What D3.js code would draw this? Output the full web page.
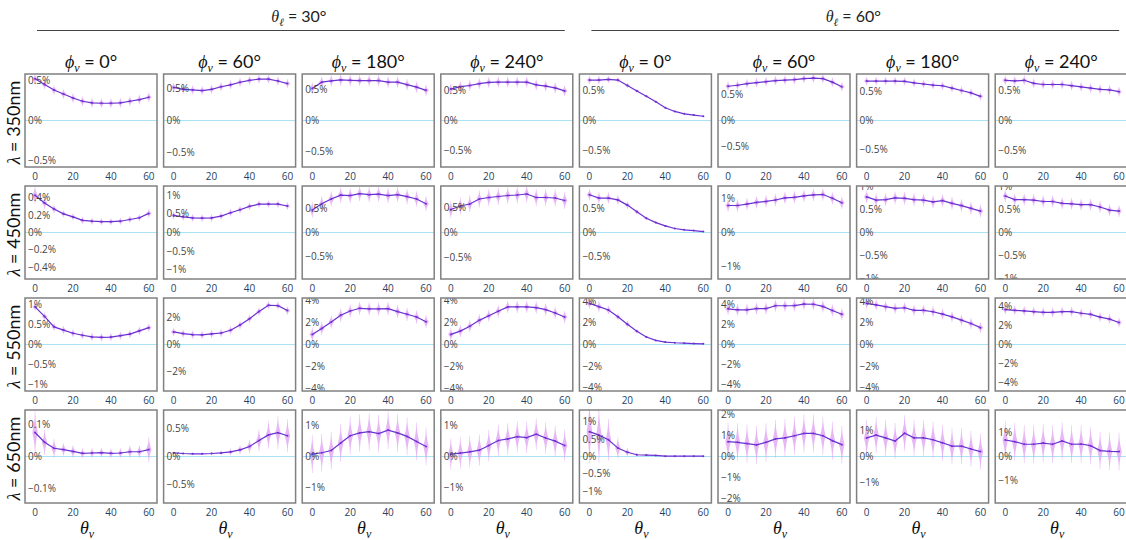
<!DOCTYPE html>
<html>
<head>
<meta charset="utf-8">
<script src="https://cdn.jsdelivr.net/npm/d3@7"></script>
<style>
  body { margin: 0; background: #fff; }
  svg { display: block; }
</style>
</head>
<body>
<div id="chart"></div>
<script>
// view zenith angles (x axis of every panel)
const thetaV = [0, 5, 10, 15, 20, 25, 30, 35, 40, 45, 50, 55, 60];
const thetaL = [30, 60];          // column groups
const phiV = [0, 60, 180, 240];   // columns inside a group
const wavelengths = [350, 450, 550, 650]; // rows
const xTicks = [0, 20, 40, 60];

// DoLP difference in %, one series per column (thetaL 30: phi 0,60,180,240 then thetaL 60)
const dolp350 = [
  [0.52, 0.45, 0.38, 0.33, 0.28, 0.24, 0.22, 0.215, 0.215, 0.22, 0.24, 0.26, 0.29],
  [0.52, 0.49, 0.48, 0.47, 0.49, 0.53, 0.56, 0.60, 0.63, 0.65, 0.65, 0.62, 0.58],
  [0.51, 0.61, 0.63, 0.645, 0.64, 0.635, 0.635, 0.635, 0.61, 0.61, 0.57, 0.53, 0.48],
  [0.52, 0.56, 0.58, 0.61, 0.63, 0.635, 0.635, 0.635, 0.635, 0.59, 0.57, 0.54, 0.49],
  [0.67, 0.67, 0.68, 0.67, 0.58, 0.49, 0.40, 0.31, 0.21, 0.15, 0.11, 0.09, 0.07],
  [0.67, 0.69, 0.72, 0.74, 0.76, 0.78, 0.79, 0.80, 0.82, 0.83, 0.82, 0.75, 0.66],
  [0.67, 0.67, 0.67, 0.67, 0.665, 0.64, 0.62, 0.60, 0.59, 0.55, 0.51, 0.47, 0.41],
  [0.67, 0.66, 0.67, 0.62, 0.60, 0.60, 0.60, 0.58, 0.56, 0.54, 0.52, 0.51, 0.48]
];
const dolp450 = [
  [0.43, 0.34, 0.27, 0.215, 0.18, 0.14, 0.13, 0.125, 0.125, 0.13, 0.15, 0.17, 0.22],
  [0.46, 0.42, 0.39, 0.385, 0.39, 0.44, 0.53, 0.61, 0.70, 0.76, 0.76, 0.76, 0.71],
  [0.47, 0.60, 0.70, 0.78, 0.77, 0.81, 0.79, 0.80, 0.77, 0.79, 0.75, 0.70, 0.60],
  [0.46, 0.53, 0.57, 0.67, 0.70, 0.72, 0.74, 0.75, 0.77, 0.70, 0.70, 0.69, 0.64],
  [0.80, 0.73, 0.73, 0.69, 0.58, 0.44, 0.30, 0.21, 0.14, 0.085, 0.056, 0.04, 0.02],
  [0.79, 0.79, 0.83, 0.88, 0.91, 0.95, 1.01, 1.03, 1.07, 1.10, 1.11, 1.00, 0.87],
  [0.78, 0.71, 0.72, 0.76, 0.75, 0.72, 0.71, 0.67, 0.70, 0.64, 0.59, 0.53, 0.47],
  [0.80, 0.72, 0.72, 0.71, 0.68, 0.68, 0.64, 0.63, 0.61, 0.61, 0.56, 0.49, 0.47]
];
const dolp550 = [
  [0.94, 0.70, 0.44, 0.36, 0.28, 0.23, 0.19, 0.18, 0.185, 0.22, 0.26, 0.34, 0.42],
  [0.92, 0.80, 0.72, 0.70, 0.77, 0.84, 1.04, 1.42, 1.88, 2.41, 2.87, 2.84, 2.48],
  [0.91, 1.45, 2.03, 2.64, 3.03, 3.27, 3.21, 3.21, 3.24, 2.97, 2.73, 2.48, 2.06],
  [0.91, 1.21, 1.64, 2.18, 2.60, 3.00, 3.39, 3.39, 3.39, 3.33, 3.15, 2.85, 2.48],
  [3.80, 3.50, 3.19, 2.56, 1.88, 1.22, 0.69, 0.38, 0.22, 0.16, 0.12, 0.09, 0.06],
  [3.59, 3.49, 3.49, 3.62, 3.62, 3.90, 3.90, 3.92, 4.07, 4.05, 3.83, 3.42, 3.04],
  [3.81, 3.66, 3.50, 3.34, 3.40, 3.16, 3.16, 3.03, 2.81, 2.56, 2.25, 1.94, 1.56],
  [3.68, 3.60, 3.54, 3.46, 3.39, 3.39, 3.46, 3.46, 3.29, 3.18, 2.89, 2.68, 2.32]
];
const dolp650 = [
  [0.076, 0.045, 0.026, 0.022, 0.016, 0.010, 0.011, 0.012, 0.010, 0.011, 0.015, 0.015, 0.022],
  [0.065, 0.054, 0.048, 0.048, 0.054, 0.065, 0.083, 0.12, 0.18, 0.29, 0.39, 0.43, 0.375],
  [0.074, 0.12, 0.19, 0.43, 0.66, 0.75, 0.79, 0.73, 0.84, 0.75, 0.64, 0.48, 0.32],
  [0.074, 0.11, 0.15, 0.20, 0.35, 0.51, 0.56, 0.63, 0.60, 0.71, 0.59, 0.49, 0.35],
  [0.71, 0.61, 0.48, 0.24, 0.12, 0.05, 0.04, 0.03, 0.01, 0.01, 0.01, 0.01, 0.01],
  [0.70, 0.67, 0.61, 0.55, 0.67, 0.83, 0.88, 0.98, 1.09, 1.09, 0.98, 0.75, 0.56],
  [0.72, 0.83, 0.72, 0.60, 0.90, 0.72, 0.72, 0.65, 0.53, 0.40, 0.40, 0.29, 0.19],
  [0.70, 0.63, 0.52, 0.52, 0.57, 0.52, 0.66, 0.52, 0.53, 0.46, 0.25, 0.22, 0.21]
];

// half height of the spread at each point (%), a number for the whole panel or one per point
const spread350 = [0.06, 0.07, 0.09, 0.09,
  [0.07, 0.07, 0.06, 0.05, 0.04, 0.03, 0.02, 0.02, 0.015, 0.015, 0.01, 0.01, 0.01], 0.09, 0.07, 0.08];
const spread450 = [[0.1, 0.07, 0.05, 0.04, 0.04, 0.04, 0.04, 0.04, 0.04, 0.04, 0.04, 0.04, 0.05], 0.1, 0.16, 0.17,
  [0.12, 0.12, 0.12, 0.1, 0.08, 0.06, 0.04, 0.02, 0.02, 0.015, 0.01, 0.01, 0.01], 0.18, 0.14, 0.13];
const spread550 = [0.1, 0.3, 0.6, 0.55,
  [0.5, 0.5, 0.4, 0.3, 0.3, 0.2, 0.1, 0.05, 0.05, 0.05, 0.05, 0.05, 0.05], 0.6, 0.5, 0.5];
const spread650 = [[0.07, 0.04, 0.03, 0.02, 0.02, 0.015, 0.015, 0.015, 0.015, 0.015, 0.02, 0.02, 0.04],
  [0.02, 0.02, 0.02, 0.02, 0.03, 0.04, 0.06, 0.08, 0.12, 0.2, 0.25, 0.3, 0.3], 0.6, 0.5,
  [0.9, 0.8, 0.6, 0.3, 0.12, 0.05, 0.03, 0.02, 0.02, 0.02, 0.02, 0.02, 0.02], 0.9, 0.7, 0.8];

// symmetric y range (+/- %) of each panel
const range350 = [0.58, 0.73, 0.74, 0.77, 0.77, 0.91, 0.79, 0.775];
const range450 = [0.536, 1.245, 0.97, 0.93, 0.985, 1.36, 1.02, 1.02];
const range550 = [1.16, 3.4, 4.2, 4.2, 4.3, 4.68, 4.3, 4.9];
const range650 = [0.147, 0.84, 1.48, 1.48, 1.33, 2.2, 1.8, 1.97];

// y tick values of each panel (%)
const ticks350 = Array(8).fill([-0.5, 0, 0.5]);
const ticks450 = [[-0.4, -0.2, 0, 0.2, 0.4], [-1, -0.5, 0, 0.5, 1], [-0.5, 0, 0.5], [-0.5, 0, 0.5],
  [-0.5, 0, 0.5], [-1, 0, 1], [-1, -0.5, 0, 0.5, 1], [-1, -0.5, 0, 0.5, 1]];
const ticks550 = [[-1, -0.5, 0, 0.5, 1], [-2, 0, 2], [-4, -2, 0, 2, 4], [-4, -2, 0, 2, 4],
  [-4, -2, 0, 2, 4], [-4, -2, 0, 2, 4], [-4, -2, 0, 2, 4], [-4, -2, 0, 2, 4]];
const ticks650 = [[-0.1, 0, 0.1], [-0.5, 0, 0.5], [-1, 0, 1], [-1, 0, 1],
  [-1, -0.5, 0, 0.5, 1], [-2, -1, 0, 1, 2], [-1, 0, 1], [-1, 0, 1]];

const rowValues = [dolp350, dolp450, dolp550, dolp650];
const rowSpread = [spread350, spread450, spread550, spread650];
const rowRange = [range350, range450, range550, range650];
const rowTicks = [ticks350, ticks450, ticks550, ticks650];

const width = 1126, height = 540;
const left0 = 25, pitchX = 138.6, boxW = 132;
const top0 = 74, pitchY = 112, boxH = 93;
const mathFont = "'Liberation Serif', 'DejaVu Serif', serif";
const textFont = "Lato, 'Open Sans', sans-serif";
const tickFont = "'Open Sans', Verdana, sans-serif";

const svg = d3.select("#chart").append("svg")
  .attr("width", width).attr("height", height);

const x = d3.scaleLinear().domain([-5.3, 64.3]).range([0, boxW]);
const fmt = d3.format("");

const violin = d3.area()
  .curve(d3.curveBasis)
  .y(d => d.y)
  .x0(d => d.cx - d.w)
  .x1(d => d.cx + d.w);

// group titles with rule
thetaL.forEach((tl, g) => {
  const gx0 = left0 + g * 4 * pitchX;
  const gx1 = gx0 + 3 * pitchX + boxW;
  const t = svg.append("text")
    .attr("x", (gx0 + gx1) / 2).attr("y", 22)
    .attr("text-anchor", "middle")
    .style("font-size", "16px").style("fill", "#222");
  t.append("tspan").style("font-family", mathFont).style("font-style", "italic").text("θ");
  t.append("tspan").attr("dy", 4).style("font-family", mathFont).style("font-style", "italic")
    .style("font-size", "11px").text("ℓ");
  t.append("tspan").attr("dy", -4).style("font-family", textFont).text(" = " + tl + "°");
  svg.append("line")
    .attr("x1", gx0 + 12).attr("x2", Math.min(gx1 - 8, 1121))
    .attr("y1", 30.5).attr("y2", 30.5)
    .attr("stroke", "#444").attr("stroke-width", 1);
});

// column titles and bottom axis titles
d3.range(8).forEach(c => {
  const cx = left0 + c * pitchX + boxW / 2;
  const t = svg.append("text")
    .attr("x", cx).attr("y", 68)
    .attr("text-anchor", "middle")
    .style("font-size", "18px").style("fill", "#111");
  t.append("tspan").style("font-family", mathFont).style("font-style", "italic").text("ϕ");
  t.append("tspan").attr("dy", 4).style("font-family", mathFont).style("font-style", "italic")
    .style("font-size", "12px").text("v");
  t.append("tspan").attr("dy", -4).style("font-family", textFont).text(" = " + phiV[c % 4] + "°");

  const b = svg.append("text")
    .attr("x", cx - 4).attr("y", 534)
    .attr("text-anchor", "middle")
    .style("font-size", "18px").style("fill", "#111").style("font-family", mathFont)
    .style("font-style", "italic");
  b.append("tspan").text("θ");
  b.append("tspan").attr("dy", 4).style("font-size", "12px").text("v");
});

// row titles
wavelengths.forEach((wl, r) => {
  const cy = top0 + r * pitchY + boxH / 2 + 2;
  const t = svg.append("text")
    .attr("transform", `translate(20,${cy}) rotate(-90)`)
    .attr("text-anchor", "middle")
    .style("font-size", "18px").style("fill", "#111");
  t.append("tspan").style("font-family", mathFont).style("font-style", "italic").text("λ");
  t.append("tspan").style("font-family", textFont).text(" = " + wl + "nm");
});

// panels
wavelengths.forEach((wl, r) => {
  d3.range(8).forEach(c => {
    const px = left0 + c * pitchX, py = top0 + r * pitchY;
    const R = rowRange[r][c];
    const vals = rowValues[r][c];
    const sp = rowSpread[r][c];
    const y = d3.scaleLinear().domain([-R, R]).range([boxH, 0]);
    const pts = thetaV.map((t, i) => ({ t: t, v: vals[i], s: Array.isArray(sp) ? sp[i] : sp }));

    const g = svg.append("g").attr("transform", `translate(${px},${py})`);
    const clipId = `clip-${r}-${c}`;
    g.append("clipPath").attr("id", clipId)
      .append("rect").attr("width", boxW).attr("height", boxH);
    const plot = g.append("g").attr("clip-path", `url(#${clipId})`);

    plot.append("line")
      .attr("x1", 0).attr("x2", boxW)
      .attr("y1", y(0)).attr("y2", y(0))
      .attr("stroke", "#a8e2f4").attr("stroke-width", 1.2);

    // spread shapes
    pts.forEach(p => {
      const cx = x(p.t), cy = y(p.v), h = Math.abs(y(p.s) - y(0));
      const prof = d3.range(-1, 1.0001, 0.1).map(u => ({
        cx: cx, y: cy + u * h, w: 2.6 * Math.pow(1 - Math.abs(u), 2.2) + 0.25
      }));
      plot.append("path")
        .attr("d", violin(prof))
        .attr("fill", "#dd9ef2").attr("fill-opacity", 0.75);
    });

    plot.append("path")
      .datum(pts)
      .attr("d", d3.line().x(d => x(d.t)).y(d => y(d.v)))
      .attr("fill", "none").attr("stroke", "#6a30d2").attr("stroke-width", 1.2);
    plot.selectAll("circle").data(pts).enter().append("circle")
      .attr("cx", d => x(d.t)).attr("cy", d => y(d.v)).attr("r", 1)
      .attr("fill", "#6a30d2");

    // y tick labels drawn inside the panel, clipped at its edges
    plot.selectAll("text.ytick").data(rowTicks[r][c]).enter().append("text")
      .attr("class", "ytick")
      .attr("x", 3).attr("y", d => y(d)).attr("dy", "0.35em")
      .style("font-family", tickFont).style("font-size", "10px").style("fill", "#444")
      .text(d => fmt(d) + "%");

    g.append("rect")
      .attr("width", boxW).attr("height", boxH)
      .attr("fill", "none").attr("stroke", "#808080").attr("stroke-width", 1.5);

    // x tick labels
    g.selectAll("text.xtick").data(xTicks).enter().append("text")
      .attr("class", "xtick")
      .attr("x", d => x(d)).attr("y", boxH + 9).attr("dy", "0.35em")
      .attr("text-anchor", "middle")
      .style("font-family", tickFont).style("font-size", "10px").style("fill", "#2a3f5f")
      .text(d => d);
  });
});
</script>
</body>
</html>
